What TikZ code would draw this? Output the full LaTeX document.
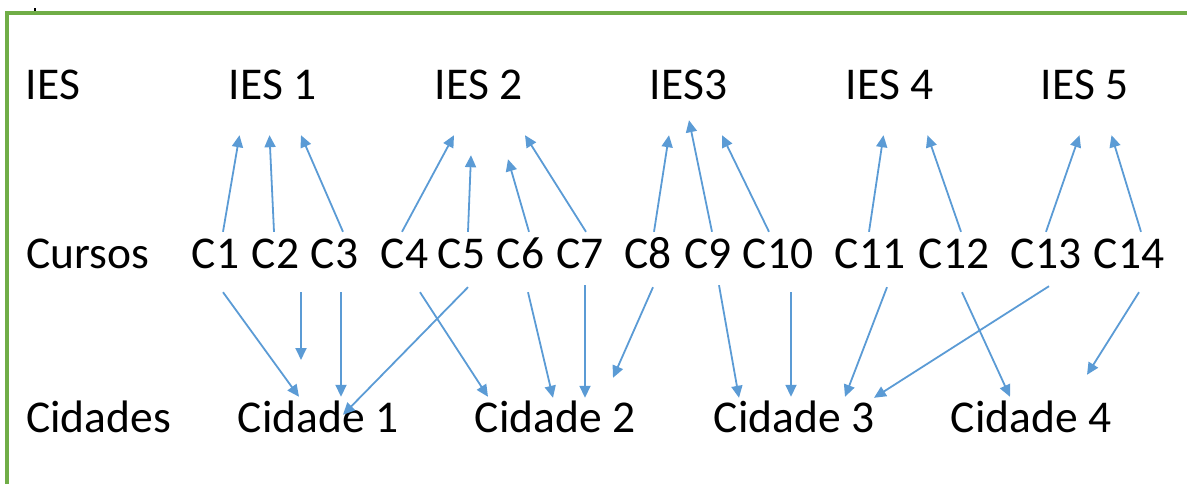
\documentclass[tikz,border=0pt]{standalone}
\usepackage{fontspec}
\setmainfont{Carlito}
\usetikzlibrary{arrows.meta,calc}
\definecolor{frameGreen}{HTML}{70AD47}
\definecolor{arrBlue}{HTML}{5B9BD5}
\tikzset{
  txt/.style={font=\fontsize{45.5}{54}\selectfont, inner xsep=0pt, inner ysep=0pt, anchor=base, text=black},
  ies/.style={txt, text height=28pt, text depth=27pt, inner ysep=8pt},
  cur/.style={txt, text height=28pt, text depth=14pt, inner ysep=8pt},
  cid/.style={txt, text height=28pt, text depth=10pt, inner ysep=7pt},
  arr/.style={draw=arrBlue, line width=1.8pt, -{Triangle[length=12pt,width=11pt]}, fill=none},
  frameline/.style={draw=frameGreen, line width=3.2pt}
}
\begin{document}
\begin{tikzpicture}[x=1pt,y=-1pt]
\useasboundingbox (0,0) rectangle (1187,484);
% frame
\coordinate (fB) at (7,486);
\coordinate (fC) at (7,13);
\coordinate (fR) at (1189,13);
\draw[frameline] (fB) -- (fC) -- (fR);
\fill[black] (34,8) rectangle (36,11);

% row labels
\node[txt] (lIES) at (53,100) {IES};
\node[txt] (lCur) at (88,268) {Cursos};
\node[txt] (lCid) at (98.5,432) {Cidades};

% IES
\node[ies] (I1) at (272.5,100) {IES 1};
\node[ies] (I2) at (478.5,100) {IES 2};
\node[ies] (I3) at (688.5,100) {IES3};
\node[ies] (I4) at (889.5,100) {IES 4};
\node[ies] (I5) at (1084.5,100) {IES 5};

% Cursos
\node[cur] (C1) at (215.5,268) {C1};
\node[cur] (C2) at (275.5,268) {C2};
\node[cur] (C3) at (334.5,268) {C3};
\node[cur] (C4) at (404.5,268) {C4};
\node[cur] (C5) at (461.5,268) {C5};
\node[cur] (C6) at (520.5,268) {C6};
\node[cur] (C7) at (580,268) {C7};
\node[cur] (C8) at (648,268) {C8};
\node[cur] (C9) at (708,268) {C9};
\node[cur] (C10) at (778,268) {C10};
\node[cur] (C11) at (870,268) {C11};
\node[cur] (C12) at (954,268) {C12};
\node[cur] (C13) at (1046,268) {C13};
\node[cur] (C14) at (1129,268) {C14};

% Cidades
\node[cid] (D1) at (318,432) {Cidade 1};
\node[cid] (D2) at (555,432) {Cidade 2};
\node[cid] (D3) at (794,432) {Cidade 3};
\node[cid] (D4) at (1031,432) {Cidade 4};

% Cursos -> IES
\draw[arr] ($(C1.north)+(7.5,0)$) -- ($(I1.south)+(-33,0)$);
\draw[arr] ($(C2.north)+(-1.5,0)$) -- ($(I1.south)+(-3,0)$);
\draw[arr] ($(C3.north)+(8.5,0)$) -- ($(I1.south)+(28.5,0)$);
\draw[arr] ($(C4.north)+(-2.5,0)$) -- ($(I2.south)+(-24.5,0)$);
\draw[arr] ($(C5.north)+(6.5,0)$) -- ($(I2.south)+(-7.5,20)$);
\draw[arr] ($(C6.north)+(8.5,0)$) -- ($(I2.south)+(29.5,24)$);
\draw[arr] ($(C7.north)+(6,0)$) -- ($(I2.south)+(46.5,0)$);
\draw[arr] ($(C8.north)+(6,0)$) -- ($(I3.south)+(-19.5,0)$);
\draw[arr] ($(C9.north)+(4,0)$) -- ($(I3.south)+(0.5,-15)$);
\draw[arr] ($(C10.north)+(-9,0)$) -- ($(I3.south)+(33.5,0)$);
\draw[arr] ($(C11.north)+(-1,0)$) -- ($(I4.south)+(-6,0)$);
\draw[arr] ($(C12.north)+(7,0)$) -- ($(I4.south)+(38,0)$);
\draw[arr] ($(C13.north)+(0,0)$) -- ($(I5.south)+(-5,0)$);
\draw[arr] ($(C14.north)+(12,0)$) -- ($(I5.south)+(27,0)$);

% Cursos -> Cidades
\coordinate (c2end) at (301,360);
\draw[arr] ($(C1.south)+(7.5,2)$) -- ($(D1.north)+(-19,0)$);
\draw[arr] ($(C2.south)+(25.5,2)$) -- (c2end);
\draw[arr] ($(C3.south)+(6.5,2)$) -- ($(D1.north)+(23,0)$);
\draw[arr] ($(C4.south)+(15.5,2)$) -- ($(D2.north)+(-67,0)$);
\draw[arr] ($(C5.south)+(6.5,-3)$) -- ($(D1.north)+(25,18)$);
\draw[arr] ($(C6.south)+(7.5,2)$) -- ($(D2.north)+(-2,1)$);
\draw[arr] ($(C7.south)+(5,-5)$) -- ($(D2.north)+(30,1)$);
\draw[arr] ($(C8.south)+(5,-3)$) -- ($(D2.north)+(58,-19)$);
\draw[arr] ($(C9.south)+(11,-5)$) -- ($(D3.north)+(-55,1)$);
\draw[arr] ($(C10.south)+(13,2)$) -- ($(D3.north)+(-3,0)$);
\draw[arr] ($(C11.south)+(17,-3)$) -- ($(D3.north)+(51,0)$);
\draw[arr] ($(C12.south)+(8,2)$) -- ($(D4.north)+(-21,0)$);
\draw[arr] ($(C13.south)+(3,-4)$) -- ($(D3.north)+(80,1)$);
\draw[arr] ($(C14.south)+(10,2)$) -- ($(D4.north)+(56,-22)$);
\end{tikzpicture}
\end{document}
